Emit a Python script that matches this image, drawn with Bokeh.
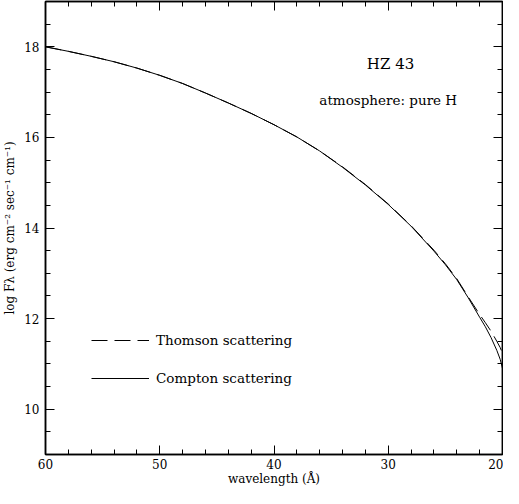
from bokeh.plotting import figure
from bokeh.models import (Range1d, SingleIntervalTicker, LinearAxis, Label,
                          Legend, LegendItem)
from bokeh.embed import file_html
from bokeh.resources import INLINE

# ---------------- data ----------------
wavelength = [60, 58, 56, 54, 52, 50, 48, 46, 44, 42, 40, 38, 36, 34, 32, 30,
              28, 26, 25, 24, 23, 22, 21.5, 21, 20.5, 20.2, 20]
compton = [18.00, 17.90, 17.79, 17.67, 17.53, 17.37, 17.19, 16.98, 16.76, 16.53,
           16.28, 16.01, 15.70, 15.34, 14.95, 14.52, 14.04, 13.49, 13.19, 12.86,
           12.46, 12.03, 11.82, 11.58, 11.30, 11.10, 10.90]
thomson = [18.00, 17.90, 17.79, 17.67, 17.53, 17.37, 17.19, 16.98, 16.76, 16.53,
           16.28, 16.01, 15.70, 15.35, 14.96, 14.53, 14.05, 13.51, 13.21, 12.88,
           12.48, 12.09, 11.91, 11.72, 11.50, 11.36, 11.23]
series_labels = ["Thomson scattering", "Compton scattering"]
title_text = "HZ 43"
subtitle_text = "atmosphere: pure H"
x_label = "wavelength (\u00c5)"
y_label = "log F\u03bb (erg cm\u207b\u00b2 sec\u207b\u00b9 cm\u207b\u00b9)"
x_major = [20, 30, 40, 50, 60]
y_major = [10, 12, 14, 16, 18]

# ---------------- layout ----------------
W, H = 503, 488
BL, BR, BT, BB = 45, 1, 1, 30
X0, X1, Y0, Y1 = 60, 20, 9, 19
FONT = "DejaVu Serif"

p = figure(width=W, height=H, x_range=Range1d(X0, X1), y_range=Range1d(Y0, Y1),
           output_backend="svg", toolbar_location=None,
           min_border_left=BL, min_border_right=BR,
           min_border_top=BT, min_border_bottom=BB,
           x_axis_type=None, y_axis_type=None)
p.grid.visible = False
p.outline_line_color = "black"
p.outline_line_width = 1.5
p.background_fill_color = "white"
p.border_fill_color = "white"


def style(ax, blank=None):
    ax.axis_line_color = "black"
    ax.axis_line_width = 1.5
    ax.major_tick_in = 9
    ax.major_tick_out = 0
    ax.minor_tick_in = 5
    ax.minor_tick_out = 0
    ax.major_tick_line_color = "black"
    ax.minor_tick_line_color = "black"
    ax.major_tick_line_width = 1
    ax.minor_tick_line_width = 1
    ax.axis_label_text_color = "black"
    ax.axis_label_text_font = FONT
    ax.axis_label_text_font_style = "normal"
    if blank is None:
        ax.major_label_text_font = FONT
        ax.major_label_text_font_size = "12px"
        ax.major_label_text_color = "black"
        ax.major_label_standoff = 3
    else:
        ax.major_label_overrides = {v: "" for v in blank}
        ax.major_label_text_font_size = "0px"
        ax.major_label_standoff = 0


xb = LinearAxis(ticker=SingleIntervalTicker(interval=10, num_minor_ticks=5))
style(xb)
xb.major_label_standoff = 4
xb.axis_label = x_label
xb.axis_label_text_font_size = "12px"
xb.axis_label_standoff = 0
p.add_layout(xb, "below")

xt = LinearAxis(ticker=SingleIntervalTicker(interval=10, num_minor_ticks=5))
style(xt, blank=x_major)
p.add_layout(xt, "above")

yl = LinearAxis(ticker=SingleIntervalTicker(interval=2, num_minor_ticks=4))
style(yl)
yl.major_label_standoff = 6
yl.axis_label = y_label
yl.axis_label_text_font_size = "12px"
yl.axis_label_standoff = 4
p.add_layout(yl, "left")

yr = LinearAxis(ticker=SingleIntervalTicker(interval=2, num_minor_ticks=4))
style(yr, blank=y_major)
p.add_layout(yr, "right")

# ---------------- curves ----------------
r_co = p.line(wavelength, compton, line_color="black", line_width=1)
r_th = p.line(wavelength, thomson, line_color="black", line_width=1,
              line_dash="16 7")

legend = Legend(items=[LegendItem(label=series_labels[0], renderers=[r_th]),
                       LegendItem(label=series_labels[1], renderers=[r_co])],
                location=(46, 66), orientation="vertical",
                glyph_width=58, glyph_height=20, label_height=20,
                spacing=18, padding=0, margin=0, label_standoff=7,
                border_line_color=None, background_fill_alpha=0,
                label_text_font=FONT, label_text_font_size="13.5px",
                label_text_color="black")
p.add_layout(legend)

# ---------------- annotations ----------------
p.add_layout(Label(x=29.8, y=17.62, text=title_text, text_align="center",
                   text_baseline="middle", text_font=FONT,
                   text_font_size="15px", text_color="black"))
p.add_layout(Label(x=30.0, y=16.83, text=subtitle_text, text_align="center",
                   text_baseline="middle", text_font=FONT,
                   text_font_size="13.5px", text_color="black"))

open("out.html", "w").write(file_html(p, INLINE))
